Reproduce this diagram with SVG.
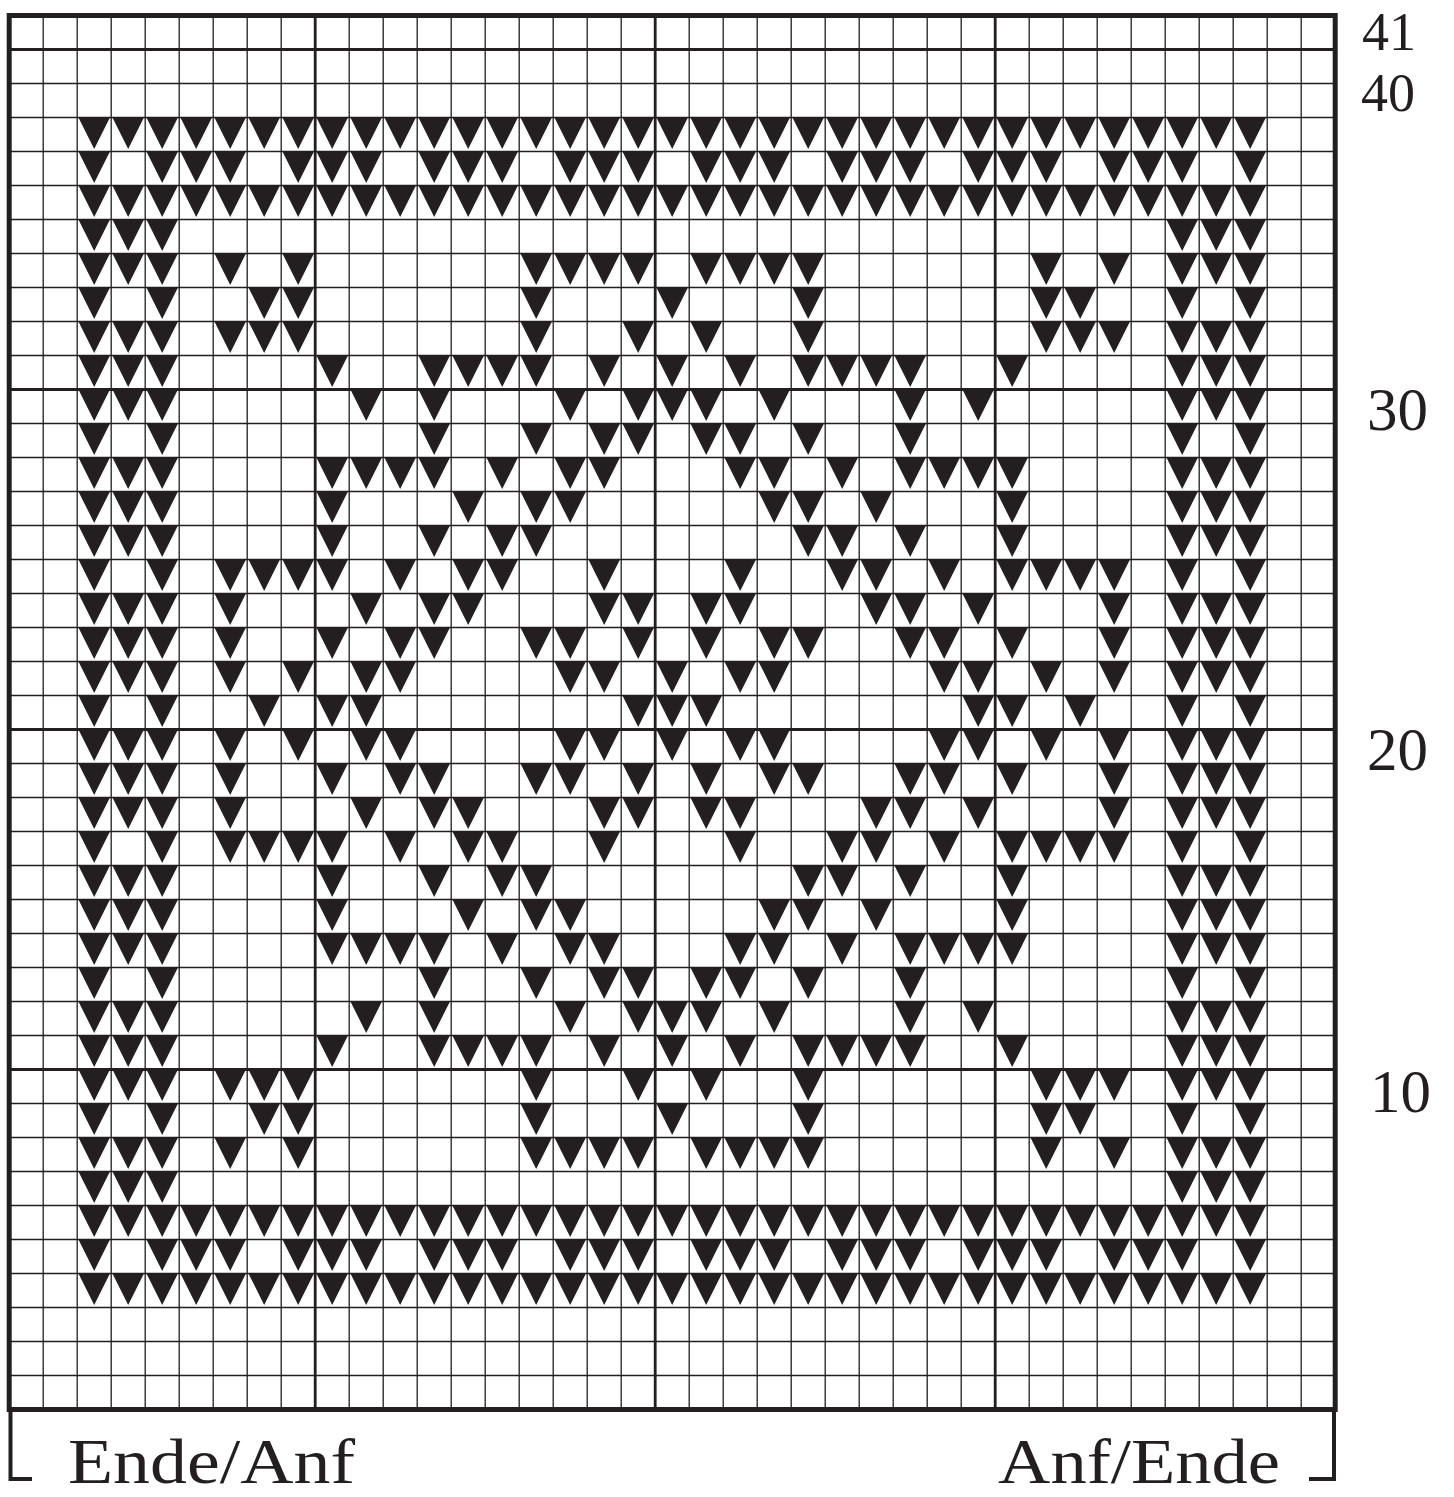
<svg xmlns="http://www.w3.org/2000/svg" xmlns:xlink="http://www.w3.org/1999/xlink" width="1454" height="1497" viewBox="0 0 1454 1497">
<style>
.thin{stroke:#231f20;stroke-width:1.3;fill:none}
.thick{stroke:#231f20;stroke-width:2.8;fill:none}
.border{stroke:#231f20;stroke-width:5;fill:none}
.bracket{stroke:#231f20;stroke-width:4;fill:none}
.st{fill:#231f20}
.num{font-family:"Liberation Serif",serif;font-size:61px;fill:#231f20}
.top{font-size:54px}
.lbl{font-family:"Liberation Serif",serif;font-size:64px;fill:#231f20}
</style>
<defs>
<path id="t" class="st" d="M1.5 0.5H32.5L17 31.5Z"/>
<g id="rA"><use href="#t" x="0"/><use href="#t" x="34"/><use href="#t" x="68"/><use href="#t" x="102"/><use href="#t" x="136"/><use href="#t" x="170"/><use href="#t" x="204"/><use href="#t" x="238"/><use href="#t" x="272"/><use href="#t" x="306"/><use href="#t" x="340"/><use href="#t" x="374"/><use href="#t" x="408"/><use href="#t" x="442"/><use href="#t" x="476"/><use href="#t" x="510"/><use href="#t" x="544"/><use href="#t" x="578"/><use href="#t" x="612"/><use href="#t" x="646"/><use href="#t" x="680"/><use href="#t" x="714"/><use href="#t" x="748"/><use href="#t" x="782"/><use href="#t" x="816"/><use href="#t" x="850"/><use href="#t" x="884"/><use href="#t" x="918"/><use href="#t" x="952"/><use href="#t" x="986"/><use href="#t" x="1020"/><use href="#t" x="1054"/><use href="#t" x="1088"/><use href="#t" x="1122"/><use href="#t" x="1156"/></g>
<g id="rB"><use href="#t" x="0"/><use href="#t" x="68"/><use href="#t" x="102"/><use href="#t" x="136"/><use href="#t" x="204"/><use href="#t" x="238"/><use href="#t" x="272"/><use href="#t" x="340"/><use href="#t" x="374"/><use href="#t" x="408"/><use href="#t" x="476"/><use href="#t" x="510"/><use href="#t" x="544"/><use href="#t" x="612"/><use href="#t" x="646"/><use href="#t" x="680"/><use href="#t" x="748"/><use href="#t" x="782"/><use href="#t" x="816"/><use href="#t" x="884"/><use href="#t" x="918"/><use href="#t" x="952"/><use href="#t" x="1020"/><use href="#t" x="1054"/><use href="#t" x="1088"/><use href="#t" x="1156"/></g>
<g id="r3"><use href="#t" x="0"/><use href="#t" x="34"/><use href="#t" x="68"/><use href="#t" x="1088"/><use href="#t" x="1122"/><use href="#t" x="1156"/></g>
<g id="r4"><use href="#t" x="0"/><use href="#t" x="34"/><use href="#t" x="68"/><use href="#t" x="136"/><use href="#t" x="204"/><use href="#t" x="442"/><use href="#t" x="476"/><use href="#t" x="510"/><use href="#t" x="544"/><use href="#t" x="612"/><use href="#t" x="646"/><use href="#t" x="680"/><use href="#t" x="714"/><use href="#t" x="952"/><use href="#t" x="1020"/><use href="#t" x="1088"/><use href="#t" x="1122"/><use href="#t" x="1156"/></g>
<g id="r5"><use href="#t" x="0"/><use href="#t" x="68"/><use href="#t" x="170"/><use href="#t" x="204"/><use href="#t" x="442"/><use href="#t" x="578"/><use href="#t" x="714"/><use href="#t" x="952"/><use href="#t" x="986"/><use href="#t" x="1088"/><use href="#t" x="1156"/></g>
<g id="r6"><use href="#t" x="0"/><use href="#t" x="34"/><use href="#t" x="68"/><use href="#t" x="136"/><use href="#t" x="170"/><use href="#t" x="204"/><use href="#t" x="442"/><use href="#t" x="544"/><use href="#t" x="612"/><use href="#t" x="714"/><use href="#t" x="952"/><use href="#t" x="986"/><use href="#t" x="1020"/><use href="#t" x="1088"/><use href="#t" x="1122"/><use href="#t" x="1156"/></g>
<g id="r7"><use href="#t" x="0"/><use href="#t" x="34"/><use href="#t" x="68"/><use href="#t" x="238"/><use href="#t" x="340"/><use href="#t" x="374"/><use href="#t" x="408"/><use href="#t" x="442"/><use href="#t" x="510"/><use href="#t" x="578"/><use href="#t" x="646"/><use href="#t" x="714"/><use href="#t" x="748"/><use href="#t" x="782"/><use href="#t" x="816"/><use href="#t" x="918"/><use href="#t" x="1088"/><use href="#t" x="1122"/><use href="#t" x="1156"/></g>
<g id="r8"><use href="#t" x="0"/><use href="#t" x="34"/><use href="#t" x="68"/><use href="#t" x="272"/><use href="#t" x="340"/><use href="#t" x="476"/><use href="#t" x="544"/><use href="#t" x="578"/><use href="#t" x="612"/><use href="#t" x="680"/><use href="#t" x="816"/><use href="#t" x="884"/><use href="#t" x="1088"/><use href="#t" x="1122"/><use href="#t" x="1156"/></g>
<g id="r9"><use href="#t" x="0"/><use href="#t" x="68"/><use href="#t" x="340"/><use href="#t" x="442"/><use href="#t" x="510"/><use href="#t" x="544"/><use href="#t" x="612"/><use href="#t" x="646"/><use href="#t" x="714"/><use href="#t" x="816"/><use href="#t" x="1088"/><use href="#t" x="1156"/></g>
<g id="r10"><use href="#t" x="0"/><use href="#t" x="34"/><use href="#t" x="68"/><use href="#t" x="238"/><use href="#t" x="272"/><use href="#t" x="306"/><use href="#t" x="340"/><use href="#t" x="408"/><use href="#t" x="476"/><use href="#t" x="510"/><use href="#t" x="646"/><use href="#t" x="680"/><use href="#t" x="748"/><use href="#t" x="816"/><use href="#t" x="850"/><use href="#t" x="884"/><use href="#t" x="918"/><use href="#t" x="1088"/><use href="#t" x="1122"/><use href="#t" x="1156"/></g>
<g id="r11"><use href="#t" x="0"/><use href="#t" x="34"/><use href="#t" x="68"/><use href="#t" x="238"/><use href="#t" x="374"/><use href="#t" x="442"/><use href="#t" x="476"/><use href="#t" x="680"/><use href="#t" x="714"/><use href="#t" x="782"/><use href="#t" x="918"/><use href="#t" x="1088"/><use href="#t" x="1122"/><use href="#t" x="1156"/></g>
<g id="r12"><use href="#t" x="0"/><use href="#t" x="34"/><use href="#t" x="68"/><use href="#t" x="238"/><use href="#t" x="340"/><use href="#t" x="408"/><use href="#t" x="442"/><use href="#t" x="714"/><use href="#t" x="748"/><use href="#t" x="816"/><use href="#t" x="918"/><use href="#t" x="1088"/><use href="#t" x="1122"/><use href="#t" x="1156"/></g>
<g id="r13"><use href="#t" x="0"/><use href="#t" x="68"/><use href="#t" x="136"/><use href="#t" x="170"/><use href="#t" x="204"/><use href="#t" x="238"/><use href="#t" x="306"/><use href="#t" x="374"/><use href="#t" x="408"/><use href="#t" x="510"/><use href="#t" x="646"/><use href="#t" x="748"/><use href="#t" x="782"/><use href="#t" x="850"/><use href="#t" x="918"/><use href="#t" x="952"/><use href="#t" x="986"/><use href="#t" x="1020"/><use href="#t" x="1088"/><use href="#t" x="1156"/></g>
<g id="r14"><use href="#t" x="0"/><use href="#t" x="34"/><use href="#t" x="68"/><use href="#t" x="136"/><use href="#t" x="272"/><use href="#t" x="340"/><use href="#t" x="374"/><use href="#t" x="510"/><use href="#t" x="544"/><use href="#t" x="612"/><use href="#t" x="646"/><use href="#t" x="782"/><use href="#t" x="816"/><use href="#t" x="884"/><use href="#t" x="1020"/><use href="#t" x="1088"/><use href="#t" x="1122"/><use href="#t" x="1156"/></g>
<g id="r15"><use href="#t" x="0"/><use href="#t" x="34"/><use href="#t" x="68"/><use href="#t" x="136"/><use href="#t" x="238"/><use href="#t" x="306"/><use href="#t" x="340"/><use href="#t" x="442"/><use href="#t" x="476"/><use href="#t" x="544"/><use href="#t" x="612"/><use href="#t" x="680"/><use href="#t" x="714"/><use href="#t" x="816"/><use href="#t" x="850"/><use href="#t" x="918"/><use href="#t" x="1020"/><use href="#t" x="1088"/><use href="#t" x="1122"/><use href="#t" x="1156"/></g>
<g id="r16"><use href="#t" x="0"/><use href="#t" x="34"/><use href="#t" x="68"/><use href="#t" x="136"/><use href="#t" x="204"/><use href="#t" x="272"/><use href="#t" x="306"/><use href="#t" x="476"/><use href="#t" x="510"/><use href="#t" x="578"/><use href="#t" x="646"/><use href="#t" x="680"/><use href="#t" x="850"/><use href="#t" x="884"/><use href="#t" x="952"/><use href="#t" x="1020"/><use href="#t" x="1088"/><use href="#t" x="1122"/><use href="#t" x="1156"/></g>
<g id="r17"><use href="#t" x="0"/><use href="#t" x="68"/><use href="#t" x="170"/><use href="#t" x="238"/><use href="#t" x="272"/><use href="#t" x="544"/><use href="#t" x="578"/><use href="#t" x="612"/><use href="#t" x="884"/><use href="#t" x="918"/><use href="#t" x="986"/><use href="#t" x="1088"/><use href="#t" x="1156"/></g>
</defs>
<rect width="1454" height="1497" fill="#ffffff"/>
<g id="stitches" transform="translate(77.2 117.5)">
<use href="#rA" y="0"/><use href="#rB" y="34"/><use href="#rA" y="68"/><use href="#r3" y="102"/><use href="#r4" y="136"/><use href="#r5" y="170"/><use href="#r6" y="204"/><use href="#r7" y="238"/><use href="#r8" y="272"/><use href="#r9" y="306"/><use href="#r10" y="340"/><use href="#r11" y="374"/><use href="#r12" y="408"/><use href="#r13" y="442"/><use href="#r14" y="476"/><use href="#r15" y="510"/><use href="#r16" y="544"/><use href="#r17" y="578"/>
<use href="#r16" y="612"/><use href="#r15" y="646"/><use href="#r14" y="680"/><use href="#r13" y="714"/><use href="#r12" y="748"/><use href="#r11" y="782"/><use href="#r10" y="816"/><use href="#r9" y="850"/><use href="#r8" y="884"/><use href="#r7" y="918"/><use href="#r6" y="952"/><use href="#r5" y="986"/><use href="#r4" y="1020"/><use href="#r3" y="1054"/><use href="#rA" y="1088"/><use href="#rB" y="1122"/><use href="#rA" y="1156"/>
</g>
<g id="grid">
<path class="thin" d="M43.2 15.5V1409.5M77.2 15.5V1409.5M111.2 15.5V1409.5M145.2 15.5V1409.5M179.2 15.5V1409.5M213.2 15.5V1409.5M247.2 15.5V1409.5M281.2 15.5V1409.5M349.2 15.5V1409.5M383.2 15.5V1409.5M417.2 15.5V1409.5M451.2 15.5V1409.5M485.2 15.5V1409.5M519.2 15.5V1409.5M553.2 15.5V1409.5M587.2 15.5V1409.5M621.2 15.5V1409.5M689.2 15.5V1409.5M723.2 15.5V1409.5M757.2 15.5V1409.5M791.2 15.5V1409.5M825.2 15.5V1409.5M859.2 15.5V1409.5M893.2 15.5V1409.5M927.2 15.5V1409.5M961.2 15.5V1409.5M1029.2 15.5V1409.5M1063.2 15.5V1409.5M1097.2 15.5V1409.5M1131.2 15.5V1409.5M1165.2 15.5V1409.5M1199.2 15.5V1409.5M1233.2 15.5V1409.5M1267.2 15.5V1409.5M1301.2 15.5V1409.5"/>
<path class="thin" d="M9.2 83.5H1335.2M9.2 117.5H1335.2M9.2 151.5H1335.2M9.2 185.5H1335.2M9.2 219.5H1335.2M9.2 253.5H1335.2M9.2 287.5H1335.2M9.2 321.5H1335.2M9.2 355.5H1335.2M9.2 423.5H1335.2M9.2 457.5H1335.2M9.2 491.5H1335.2M9.2 525.5H1335.2M9.2 559.5H1335.2M9.2 593.5H1335.2M9.2 627.5H1335.2M9.2 661.5H1335.2M9.2 695.5H1335.2M9.2 763.5H1335.2M9.2 797.5H1335.2M9.2 831.5H1335.2M9.2 865.5H1335.2M9.2 899.5H1335.2M9.2 933.5H1335.2M9.2 967.5H1335.2M9.2 1001.5H1335.2M9.2 1035.5H1335.2M9.2 1103.5H1335.2M9.2 1137.5H1335.2M9.2 1171.5H1335.2M9.2 1205.5H1335.2M9.2 1239.5H1335.2M9.2 1273.5H1335.2M9.2 1307.5H1335.2M9.2 1341.5H1335.2M9.2 1375.5H1335.2"/>
<path class="thick" d="M315.2 15.5V1409.5M655.2 15.5V1409.5M995.2 15.5V1409.5M9.2 49.5H1335.2M9.2 389.5H1335.2M9.2 729.5H1335.2M9.2 1069.5H1335.2"/>
<rect class="border" x="9.2" y="15.5" width="1326" height="1394"/>
<path class="bracket" d="M10.5 1409.5V1479H32"/>
<path class="bracket" d="M1334 1409.5V1479H1309"/>
</g>
<g id="labels">
<text class="num top" x="1362" y="50">41</text>
<text class="num top" x="1361" y="111">40</text>
<text class="num" x="1367" y="430">30</text>
<text class="num" x="1367" y="770">20</text>
<text class="num" x="1370" y="1112">10</text>
<text class="lbl" x="68" y="1483" textLength="287" lengthAdjust="spacingAndGlyphs">Ende/Anf</text>
<text class="lbl" x="998" y="1483" textLength="282" lengthAdjust="spacingAndGlyphs">Anf/Ende</text>
</g>
</svg>
